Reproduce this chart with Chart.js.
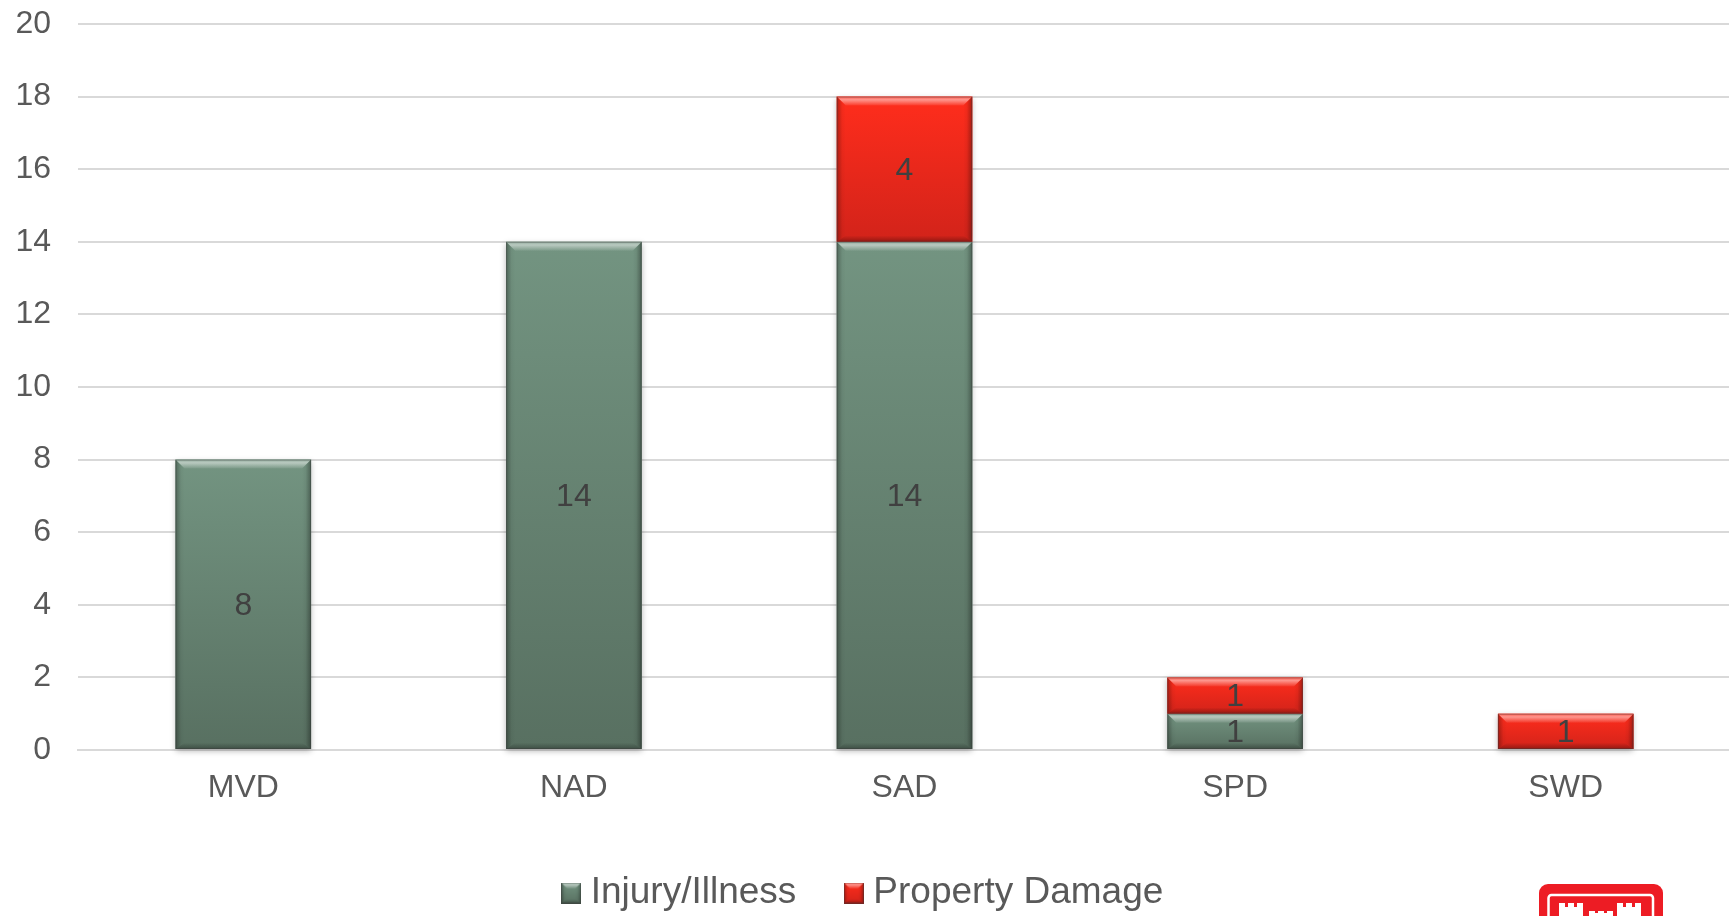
<!DOCTYPE html>
<html lang="en">
<head>
    <meta charset="UTF-8">
    <title>Incidents by Division</title>
    <script src="https://cdn.jsdelivr.net/npm/chart.js"></script>
    <style>
        body { margin: 0; background: #fff; overflow: hidden; }
        #wrap { position: relative; width: 1729px; height: 916px; overflow: hidden; }
        #chart { display: block; }
        #logo { position: absolute; left: 1539px; top: 884px; }
    </style>
</head>
<body>
    <div id="wrap">
        <canvas id="chart" width="1731" height="916"></canvas>
        <!-- castle logo, cut off by the bottom of the page like in the slide -->
        <svg id="logo" width="124" height="32" viewBox="0 0 124 32">
            <rect x="0" y="0" width="124" height="70" rx="9" fill="#ed1c24"/>
            <rect x="9.5" y="11" width="104.5" height="50" rx="3" fill="none" stroke="#fff" stroke-width="2.5"/>
            <path fill="#fff" d="M20 32V19h6v4h3v-4h6v4h3v-4h6v13zM50 32v-5h6v2h3v-2h6v2h3v-2h6v5zM78 32V19h6v4h3v-4h6v4h3v-4h6v13z"/>
        </svg>
    </div>
    <script>
        const categories = ['MVD', 'NAD', 'SAD', 'SPD', 'SWD'];
        const injuryIllness = [8, 14, 14, 1, null];
        const propertyDamage = [null, null, 4, 1, 1];
        const seriesNames = ['Injury/Illness', 'Property Damage'];
        const yMax = 20;
        const yStep = 2;

        const textColor = '#595959';
        const labelColor = '#404040';
        const gridColor = '#d9d9d9';
        const fontFamily = '"Liberation Sans", Arial, sans-serif';
        const fontSize = 32;

        // top and bottom of the fill gradient per series
        const fills = [['#739481', '#587061'], ['#ff2d1c', '#d2231a']];

        function fillBar(ctx, x0, y0, x1, y1, i) {
            const g = ctx.createLinearGradient(0, y0, 0, y1);
            g.addColorStop(0, fills[i][0]);
            g.addColorStop(1, fills[i][1]);
            ctx.fillStyle = g;
            ctx.fillRect(x0, y0, x1 - x0, y1 - y0);
        }

        function drawBevel(ctx, x0, y0, x1, y1, size) {
            const t = Math.min(size, (y1 - y0) * 0.3);
            const s = size;
            const b = Math.min(size * 0.7, (y1 - y0) * 0.2);
            const poly = (pts, color) => {
                ctx.beginPath();
                pts.forEach((p, k) => k ? ctx.lineTo(p[0], p[1]) : ctx.moveTo(p[0], p[1]));
                ctx.closePath();
                ctx.fillStyle = color;
                ctx.fill();
            };
            const left = ctx.createLinearGradient(x0, 0, x0 + s, 0);
            left.addColorStop(0, 'rgba(0,0,0,0.3)');
            left.addColorStop(0.6, 'rgba(0,0,0,0.04)');
            left.addColorStop(1, 'rgba(0,0,0,0)');
            poly([[x0, y0], [x0 + s, y0 + t], [x0 + s, y1 - b], [x0, y1]], left);
            const right = ctx.createLinearGradient(x1, 0, x1 - s, 0);
            right.addColorStop(0, 'rgba(0,0,0,0.34)');
            right.addColorStop(0.6, 'rgba(0,0,0,0.05)');
            right.addColorStop(1, 'rgba(0,0,0,0)');
            poly([[x1, y0], [x1 - s, y0 + t], [x1 - s, y1 - b], [x1, y1]], right);
            const bottom = ctx.createLinearGradient(0, y1 - b, 0, y1);
            bottom.addColorStop(0, 'rgba(0,0,0,0)');
            bottom.addColorStop(1, 'rgba(0,0,0,0.3)');
            poly([[x0, y1], [x1, y1], [x1 - s, y1 - b], [x0 + s, y1 - b]], bottom);
            const top = ctx.createLinearGradient(0, y0, 0, y0 + t);
            top.addColorStop(0, 'rgba(255,255,255,0.22)');
            top.addColorStop(0.35, 'rgba(255,255,255,0.5)');
            top.addColorStop(1, 'rgba(255,255,255,0.06)');
            poly([[x0, y0], [x1, y0], [x1 - t, y0 + t], [x0 + t, y0 + t]], top);
            ctx.strokeStyle = 'rgba(60,60,60,0.4)';
            ctx.lineWidth = 1;
            ctx.strokeRect(x0 + 0.5, y0 + 0.5, x1 - x0 - 1, y1 - y0 - 1);
        }

        function eachBar(chart, fn) {
            chart.data.datasets.forEach((ds, i) => {
                chart.getDatasetMeta(i).data.forEach((bar, j) => {
                    if (ds.data[j] !== null) fn(bar, ds.data[j], i);
                });
            });
        }

        // soft shadow under the bars
        const barShadow = {
            id: 'barShadow',
            beforeDatasetsDraw(chart) {
                const ctx = chart.ctx;
                ctx.save();
                ctx.shadowColor = 'rgba(0,0,0,0.28)';
                ctx.shadowBlur = 6;
                ctx.shadowOffsetY = 2;
                ctx.fillStyle = '#fff';
                eachBar(chart, bar => {
                    const w = bar.width / 2;
                    ctx.fillRect(bar.x - w, bar.y, bar.width, bar.base - bar.y);
                });
                ctx.restore();
            }
        };

        // gradient, bevel and the value inside each bar
        const barDecor = {
            id: 'barDecor',
            afterDatasetsDraw(chart) {
                const ctx = chart.ctx;
                ctx.save();
                eachBar(chart, (bar, value, i) => {
                    const w = bar.width / 2;
                    fillBar(ctx, bar.x - w, bar.y, bar.x + w, bar.base, i);
                    drawBevel(ctx, bar.x - w, bar.y, bar.x + w, bar.base, 9);
                });
                ctx.font = fontSize + 'px ' + fontFamily;
                ctx.fillStyle = labelColor;
                ctx.textAlign = 'center';
                ctx.textBaseline = 'middle';
                eachBar(chart, (bar, value) => {
                    ctx.fillText(String(value), bar.x, (bar.y + bar.base) / 2 + 2);
                });
                ctx.restore();
            }
        };

        // legend sits left of the page centre in the original
        const legendPlace = {
            id: 'legendPlace',
            afterLayout(chart) {
                chart.legend.left = 0;
                chart.legend.right = 1733.5;
                chart.legend.top = 818;
            }
        };

        function makeSwatch(i) {
            const c = document.createElement('canvas');
            c.width = 20;
            c.height = 21;
            const x = c.getContext('2d');
            fillBar(x, 0, 0, 20, 21, i);
            drawBevel(x, 0, 0, 20, 21, 6);
            return c;
        }
        const swatches = seriesNames.map((n, i) => makeSwatch(i));

        new Chart(document.getElementById('chart'), {
            type: 'bar',
            data: {
                labels: categories,
                datasets: [
                    { label: seriesNames[0], data: injuryIllness, backgroundColor: fills[0][0] },
                    { label: seriesNames[1], data: propertyDamage, backgroundColor: fills[1][0] }
                ]
            },
            options: {
                responsive: false,
                animation: false,
                barPercentage: 0.41,
                categoryPercentage: 1,
                layout: { padding: { top: 24, left: 0, right: 0, bottom: 0 } },
                font: { family: fontFamily },
                plugins: {
                    tooltip: { enabled: false },
                    legend: {
                        position: 'bottom',
                        labels: {
                            usePointStyle: true,
                            boxWidth: 2,
                            padding: 56.5,
                            color: textColor,
                            font: { size: 37, family: fontFamily },
                            generateLabels: chart => chart.data.datasets.map((ds, i) => ({
                                text: ds.label,
                                pointStyle: swatches[i],
                                fontColor: textColor,
                                datasetIndex: i,
                                lineWidth: 0
                            }))
                        }
                    }
                },
                scales: {
                    x: {
                        stacked: true,
                        afterFit: scale => { scale.height = 62.5; },
                        grid: { display: false },
                        border: { color: gridColor, width: 2 },
                        ticks: {
                            padding: 11,
                            color: textColor,
                            font: { size: fontSize, family: fontFamily },
                            maxRotation: 0
                        }
                    },
                    y: {
                        stacked: true,
                        min: 0,
                        max: yMax,
                        afterFit: scale => {
                            scale.width = 78;
                            // tick padding would otherwise push the plot down
                            scale.paddingTop = 0;
                            scale.paddingBottom = 0;
                        },
                        border: { display: false },
                        grid: { color: gridColor, lineWidth: 2, drawTicks: false },
                        ticks: {
                            stepSize: yStep,
                            padding: 27,
                            color: textColor,
                            font: { size: fontSize, family: fontFamily }
                        }
                    }
                }
            },
            plugins: [barShadow, barDecor, legendPlace]
        });
    </script>
</body>
</html>
